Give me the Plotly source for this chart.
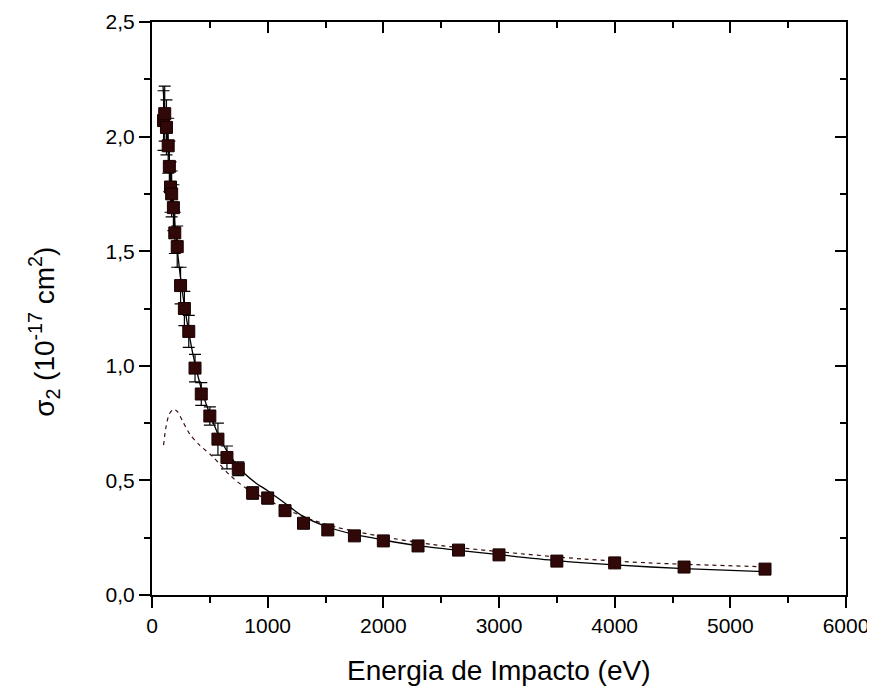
import plotly.graph_objects as go

# Experimental points
energy = [100, 110, 125, 140, 150, 160, 170, 185, 197, 218, 247, 280, 318,
          372, 426, 500, 570, 648, 746, 870, 1000, 1150, 1310, 1520, 1750,
          2000, 2300, 2650, 3000, 3500, 4000, 4600, 5300]
sigma = [2.07, 2.10, 2.04, 1.96, 1.87, 1.78, 1.75, 1.69, 1.58, 1.52, 1.35,
         1.25, 1.15, 0.99, 0.877, 0.781, 0.680, 0.600, 0.551, 0.445, 0.423,
         0.368, 0.313, 0.284, 0.258, 0.236, 0.214, 0.196, 0.175, 0.148,
         0.140, 0.122, 0.113]
sigma_err = [0.13, 0.12, 0.12, 0.12, 0.11, 0.11, 0.10, 0.10, 0.09, 0.09,
             0.08, 0.075, 0.07, 0.06, 0.05, 0.04, 0.07, 0.05, 0.03, 0.027,
             0.025, 0.022, 0.019, 0.017, 0.015, 0.014, 0.013, 0.012, 0.010,
             0.009, 0.008, 0.007, 0.007]

# Solid theoretical curve
solid_E = [95, 110, 130, 150, 175, 200, 250, 300, 350, 400, 450, 500, 600,
           700, 800, 900, 1000, 1150, 1300, 1500, 1750, 2000, 2300, 2650,
           3000, 3500, 4000, 4600, 5300]
solid_s = [2.22, 2.12, 2.02, 1.90, 1.75, 1.60, 1.37, 1.20, 1.06, 0.95, 0.86,
           0.79, 0.67, 0.59, 0.53, 0.488, 0.455, 0.400, 0.345, 0.300, 0.264,
           0.240, 0.215, 0.195, 0.176, 0.150, 0.131, 0.115, 0.102]

# Dashed theoretical curve
dash_E = [100, 120, 150, 186, 220, 267, 330, 411, 527, 671, 815, 1000, 1200,
          1400, 1600, 2000, 2430, 3000, 3730, 4300, 5300]
dash_s = [0.654, 0.73, 0.79, 0.81, 0.80, 0.756, 0.70, 0.654, 0.603, 0.524,
          0.465, 0.415, 0.365, 0.325, 0.295, 0.254, 0.220, 0.189, 0.157,
          0.140, 0.123]

x_ticks = [0, 1000, 2000, 3000, 4000, 5000, 6000]
x_ticklabels = ["0", "1000", "2000", "3000", "4000", "5000", "6000"]
y_ticks = [0.0, 0.5, 1.0, 1.5, 2.0, 2.5]
y_ticklabels = ["0,0", "0,5", "1,0", "1,5", "2,0", "2,5"]

FONT = "Arial, Liberation Sans, sans-serif"

fig = go.Figure()
fig.add_trace(go.Scatter(x=dash_E, y=dash_s, mode="lines",
                         line=dict(color="#3a1010", width=1.2, dash="4px,4px",
                                   shape="spline", smoothing=0.8),
                         showlegend=False, hoverinfo="skip"))
fig.add_trace(go.Scatter(x=solid_E, y=solid_s, mode="lines",
                         line=dict(color="black", width=1.3, shape="spline",
                                   smoothing=0.8),
                         showlegend=False, hoverinfo="skip"))
fig.add_trace(go.Scatter(x=energy, y=sigma, mode="markers",
                         marker=dict(symbol="square", size=12, color="#300808",
                                     line=dict(color="#1a0000", width=1)),
                         error_y=dict(type="data", array=sigma_err, visible=True,
                                      color="black", thickness=1.2, width=6),
                         showlegend=False))
# dummy trace for mirrored top/right axes
fig.add_trace(go.Scatter(x=[None], y=[None], xaxis="x2", yaxis="y2",
                         showlegend=False, hoverinfo="skip"))

common = dict(showgrid=False, zeroline=False, showline=True, linecolor="black",
              linewidth=2, tickcolor="black", tickwidth=2, ticklen=11,
              automargin=False)

fig.update_layout(
    width=867, height=679,
    margin=dict(l=144, r=29, t=14, b=92),
    plot_bgcolor="white", paper_bgcolor="white",
    font=dict(family=FONT, color="black", size=21),
    xaxis=dict(range=[0, 6000], tickmode="array", tickvals=x_ticks,
               ticktext=x_ticklabels, ticks="outside",
               minor=dict(tickmode="linear", tick0=0, dtick=500, ticks="outside",
                          ticklen=6, tickwidth=2, tickcolor="black"),
               tickfont=dict(size=21), **common),
    yaxis=dict(range=[0, 2.5], tickmode="array", tickvals=y_ticks,
               ticktext=y_ticklabels, ticks="outside",
               minor=dict(tickmode="linear", tick0=0, dtick=0.25, ticks="outside",
                          ticklen=6, tickwidth=2, tickcolor="black"),
               tickfont=dict(size=21), **common),
    xaxis2=dict(range=[0, 6000], overlaying="x", side="top", tickmode="array",
                tickvals=x_ticks, showticklabels=False, ticks="inside",
                minor=dict(tickmode="linear", tick0=0, dtick=500, ticks="inside",
                           ticklen=6, tickwidth=2, tickcolor="black"),
                **common),
    yaxis2=dict(range=[0, 2.5], overlaying="y", side="right", tickmode="array",
                tickvals=y_ticks, showticklabels=False, ticks="inside",
                minor=dict(tickmode="linear", tick0=0, dtick=0.25, ticks="inside",
                           ticklen=6, tickwidth=2, tickcolor="black"),
                **common),
    annotations=[
        dict(text="Energia de Impacto (eV)", xref="paper", yref="paper",
             x=0.5, y=-0.131, xanchor="center", yanchor="middle",
             showarrow=False, font=dict(size=28, family=FONT, color="black")),
        dict(text="σ<sub>2</sub> (10<sup>-17</sup> cm<sup>2</sup>)", xref="paper",
             yref="paper", x=-0.155, y=0.46, xanchor="center", yanchor="middle",
             textangle=-90, showarrow=False,
             font=dict(size=28, family=FONT, color="black")),
    ],
)

fig.write_html("out.html")
